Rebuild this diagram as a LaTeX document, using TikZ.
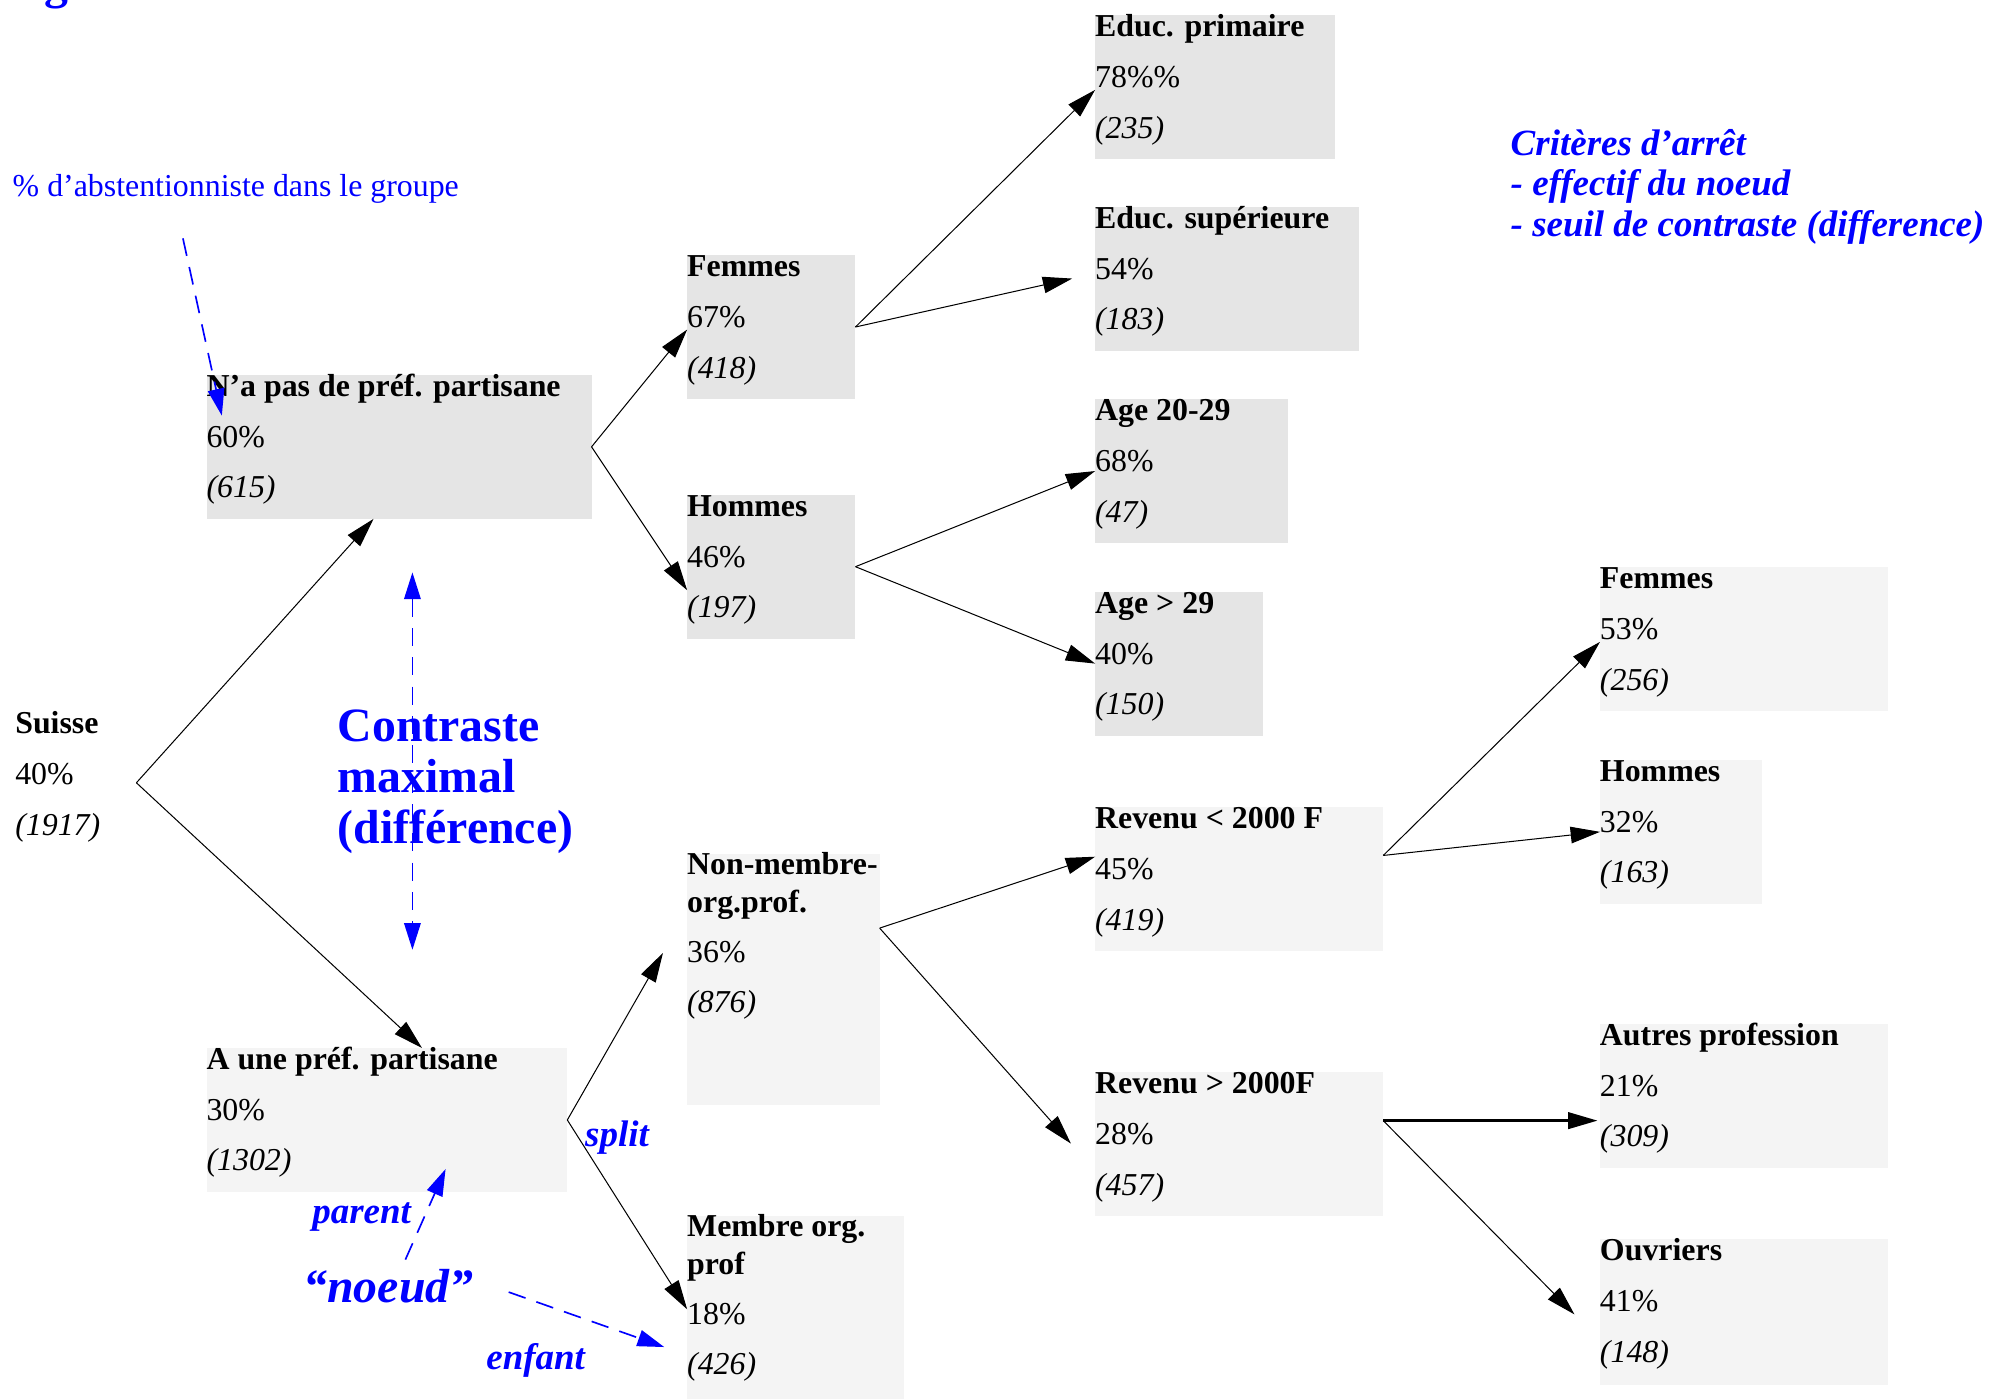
\documentclass[tikz,border=0pt]{standalone}
\usepackage{fontspec}
\setmainfont{Liberation Serif}
\usetikzlibrary{arrows.meta,calc}
\definecolor{boxdark}{RGB}{229,229,229}
\definecolor{boxlight}{RGB}{244,244,244}
\definecolor{noteblue}{RGB}{0,0,255}
\newcommand\nf{\fontsize{25}{30}\selectfont}
\tikzset{
  boxsty/.style={draw=none, inner sep=0pt, outer sep=0pt, anchor=north west},
  lbl/.style={anchor=base west, inner sep=0pt, outer sep=0pt, font=\nf},
  ttl/.style={lbl, font=\nf\bfseries},
  cnt/.style={lbl, font=\nf\itshape},
  arr/.style={draw=black, line width=0.8pt, -{Triangle[length=23pt,width=13pt]}},
  thickarr/.style={arr, line width=1.8pt},
  note/.style={anchor=base west, inner sep=0pt, outer sep=0pt, text=noteblue},
  notearr/.style={draw=noteblue, line width=1.3pt, dash pattern=on 14pt off 9pt, -{Triangle[length=21pt,width=13pt]}},
  bignote/.style={note, font=\bfseries\fontsize{37.5}{40}\selectfont},
  binote/.style={note, font=\bfseries\itshape\fontsize{29}{32}\selectfont},
}
\newcommand\treebox[9]{%
  \node[boxsty, fill=#6, minimum width=#4pt, minimum height=#5pt] (#1) at (#2,#3) {};
  \node[ttl] (#1-t) at ($(#1.north west)+(0,17)$) {#7};
  \node[lbl] (#1-p) at ($(#1.north west)+(0,57)$) {#8};
  \node[cnt] (#1-n) at ($(#1.north west)+(0,96.5)$) {#9};
}
\begin{document}
\begin{tikzpicture}[x=1pt,y=-1pt]
\useasboundingbox (0,0) rectangle (1568,1097);

% ---- root
\node[ttl] (suisse-t) at (12,575.5) {Suisse};
\node[lbl] (suisse-p) at (12,615) {40\%};
\node[cnt] (suisse-n) at (12,655) {(1917)};
\coordinate (suisse) at (107,614);

% ---- upper branch (darker)
\treebox{nap}{162}{294}{302}{113}{boxdark}{N’a pas de préf. partisane}{60\%}{(615)}
\treebox{femA}{539}{200}{132}{113}{boxdark}{Femmes}{67\%}{(418)}
\treebox{homA}{539}{388}{132}{113}{boxdark}{Hommes}{46\%}{(197)}
\treebox{edp}{859}{12}{188}{113}{boxdark}{Educ. primaire}{78\%\%}{(235)}
\treebox{eds}{859}{162}{207}{113}{boxdark}{Educ. supérieure}{54\%}{(183)}
\treebox{ageA}{859}{313}{151}{113}{boxdark}{Age 20-29}{68\%}{(47)}
\treebox{ageB}{859}{464}{132}{113}{boxdark}{Age > 29}{40\%}{(150)}

% ---- lower branch (lighter)
\treebox{aune}{162}{822}{283}{113}{boxlight}{A une préf. partisane}{30\%}{(1302)}
\node[boxsty, fill=boxlight, minimum width=151pt, minimum height=197pt] (nonm) at (539,670) {};
\node[ttl] (nonm-t1) at ($(nonm.north west)+(0,16)$) {Non-membre-};
\node[ttl] (nonm-t2) at ($(nonm.north west)+(0,45.5)$) {org.prof.};
\node[lbl] (nonm-p) at ($(nonm.north west)+(0,85)$) {36\%};
\node[cnt] (nonm-n) at ($(nonm.north west)+(0,124.5)$) {(876)};
\node[boxsty, fill=boxlight, minimum width=170pt, minimum height=150pt] (memb) at (539,954) {};
\node[ttl] (memb-t1) at ($(memb.north west)+(0,16)$) {Membre org.};
\node[ttl] (memb-t2) at ($(memb.north west)+(0,45.5)$) {prof};
\node[lbl] (memb-p) at ($(memb.north west)+(0,85)$) {18\%};
\node[cnt] (memb-n) at ($(memb.north west)+(0,124.5)$) {(426)};
\treebox{revlo}{859}{633}{226}{113}{boxlight}{Revenu < 2000 F}{45\%}{(419)}
\treebox{revhi}{859}{841}{226}{113}{boxlight}{Revenu > 2000F}{28\%}{(457)}
\treebox{femB}{1255}{445}{226}{113}{boxlight}{Femmes}{53\%}{(256)}
\treebox{homB}{1255}{596}{127}{113}{boxlight}{Hommes}{32\%}{(163)}
\treebox{autres}{1255}{803}{226}{113}{boxlight}{Autres profession}{21\%}{(309)}
\treebox{ouv}{1255}{972}{226}{114}{boxlight}{Ouvriers}{41\%}{(148)}

% ---- tree connectors
\draw[arr] (suisse) -- ($(nap.south)+(-20,0)$);
\draw[arr] (suisse) -- ($(aune.north)+(27.5,0)$);
\draw[arr] (nap.east) -- ($(femA.west)+(0,2)$);
\draw[arr] (nap.east) -- ($(homA.west)+(0,18.5)$);
\draw[arr] (femA.east) -- ($(edp.west)+(0,2)$);
\draw[arr] (femA.east) -- ($(eds.west)+(-18,0)$);
\draw[arr] (homA.east) -- (ageA.west);
\draw[arr] (homA.east) -- (ageB.west);
\draw[arr] (aune.east) -- ($(nonm.west)+(-19,-21)$);
\draw[arr] (aune.east) -- ($(memb.north west)+(0,73)$);
\draw[arr] ($(nonm.north east)+(0,58)$) -- ($(revlo.north west)+(0,39)$);
\draw[arr] ($(nonm.north east)+(0,58)$) -- ($(revhi.north west)+(-19,56)$);
\draw[arr] ($(revlo.north east)+(0,38)$) -- ($(femB.west)+(0,2)$);
\draw[arr] ($(revlo.north east)+(0,38)$) -- (homB.west);
\draw[thickarr] ($(revhi.north east)+(0,38)$) -- ($(autres.north west)+(-2,76)$);
\draw[arr] ($(revhi.north east)+(0,38)$) -- ($(ouv.west)+(-20,2)$);

% ---- blue annotations
\node[bignote] (topg) at (35,-1.5) {g};
\node[note, font=\nf] (abs) at (10,154) {\% d’abstentionniste dans le groupe};
\node[bignote] (contr1) at (265,582) {Contraste};
\node[bignote] (contr2) at (265,621.6) {maximal};
\node[bignote] (contr3) at (265,661.4) {(différence)};
\node[binote] (split) at (459,899) {split};
\node[binote] (parent) at (245,960) {parent};
\node[note, font=\bfseries\itshape\fontsize{37.5}{40}\selectfont] (noeud) at (238,1022) {“noeud”};
\node[binote] (enfant) at (381.5,1074) {enfant};
\node[binote] (crit1) at (1185,121.6) {Critères d’arrêt};
\node[binote] (crit2) at (1185,153) {- effectif du noeud};
\node[binote] (crit3) at (1185,185.6) {- seuil de contraste (difference)};

\coordinate (abs-from) at (143.5,187);
\draw[notearr] (abs-from) -- ($(nap.north west)+(12,32)$);
\coordinate (ct-top) at (323.5,449);
\coordinate (ct-bot) at (323.5,745);
\draw[notearr, {Triangle[length=21pt,width=13pt]}-{Triangle[length=21pt,width=13pt]}] (ct-top) -- (ct-bot);
\coordinate (par-from) at (318,988);
\draw[notearr] (par-from) -- ($(aune.south west)+(187.5,-18)$);
\coordinate (enf-from) at (399,1013.5);
\draw[notearr] (enf-from) -- ($(memb.north west)+(-18,102.6)$);
\end{tikzpicture}
\end{document}
